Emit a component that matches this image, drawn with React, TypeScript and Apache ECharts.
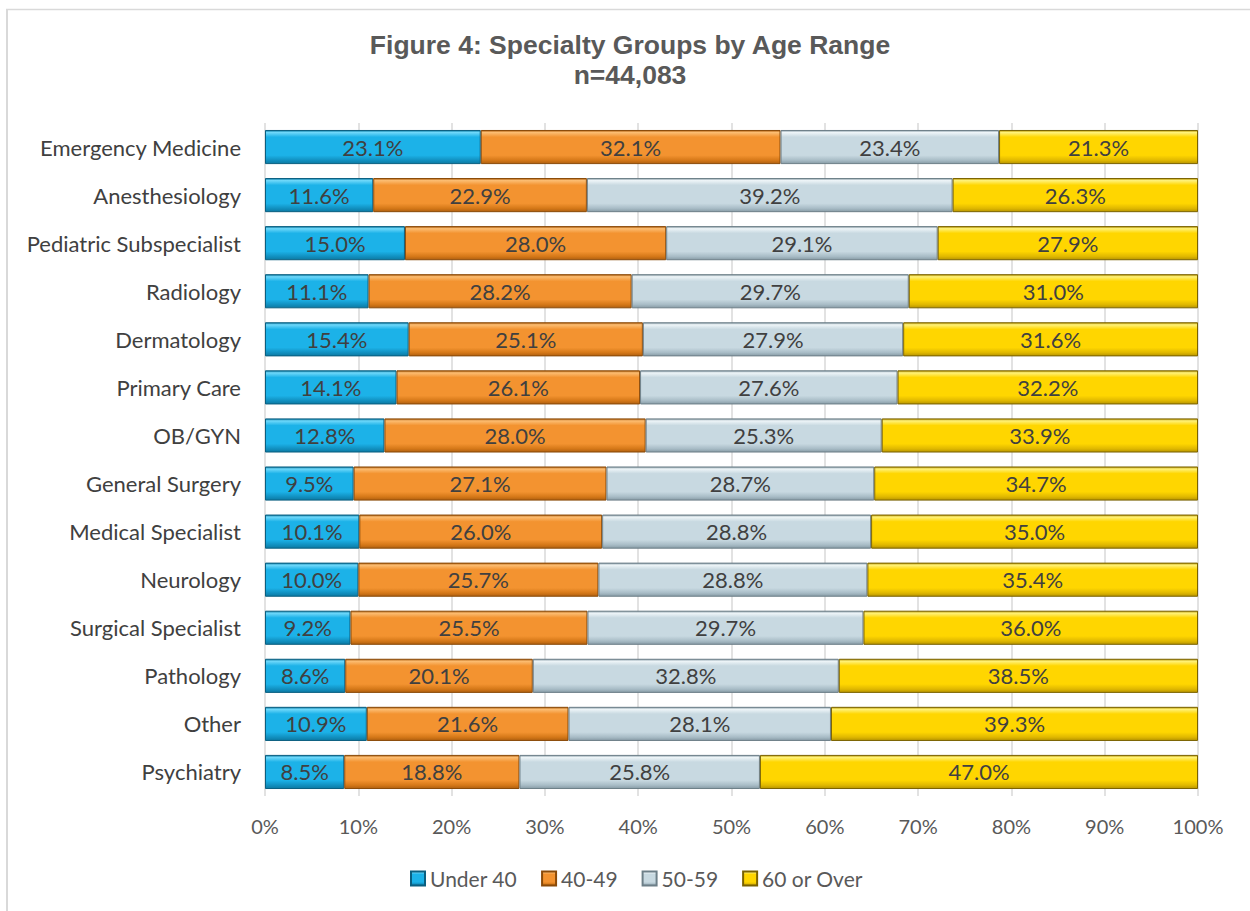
import React, { useEffect, useRef } from "react";
import * as echarts from "echarts";

const categories = [
  "Emergency Medicine",
  "Anesthesiology",
  "Pediatric Subspecialist",
  "Radiology",
  "Dermatology",
  "Primary Care",
  "OB/GYN",
  "General Surgery",
  "Medical Specialist",
  "Neurology",
  "Surgical Specialist",
  "Pathology",
  "Other",
  "Psychiatry",
];

const under40 = [23.1, 11.6, 15.0, 11.1, 15.4, 14.1, 12.8, 9.5, 10.1, 10.0, 9.2, 8.6, 10.9, 8.5];
const age40to49 = [32.1, 22.9, 28.0, 28.2, 25.1, 26.1, 28.0, 27.1, 26.0, 25.7, 25.5, 20.1, 21.6, 18.8];
const age50to59 = [23.4, 39.2, 29.1, 29.7, 27.9, 27.6, 25.3, 28.7, 28.8, 28.8, 29.7, 32.8, 28.1, 25.8];
const age60plus = [21.3, 26.3, 27.9, 31.0, 31.6, 32.2, 33.9, 34.7, 35.0, 35.4, 36.0, 38.5, 39.3, 47.0];

const seriesNames = ["Under 40", "40-49", "50-59", "60 or Over"];
const xTicks = [0, 10, 20, 30, 40, 50, 60, 70, 80, 90, 100];

const FONT = "Lato, 'Open Sans', sans-serif";

function grad(light: string, base: string, dark: string, edge: string) {
  return new echarts.graphic.LinearGradient(0, 0, 0, 1, [
    { offset: 0, color: edge },
    { offset: 0.06, color: light },
    { offset: 0.2, color: base },
    { offset: 0.75, color: base },
    { offset: 0.9, color: dark },
    { offset: 1, color: edge },
  ]);
}

export default function App() {
  const ref = useRef<HTMLDivElement>(null);
  useEffect(() => {
    if (!ref.current) return;
    const chart = echarts.init(ref.current, undefined, { renderer: "svg" });
    const all = [under40, age40to49, age50to59, age60plus];
    const sums = categories.map((_, i) => all.reduce((s, arr) => s + arr[i], 0));
    const styles = [
      { color: grad("#6fd8fa", "#1cb2e8", "#1190c0", "#0c7aa3"), border: "#0a5f80" },
      { color: grad("#fcbd72", "#f39330", "#d57818", "#b06010"), border: "#8a4a08" },
      { color: grad("#eef5f8", "#c8d9e1", "#a8bcc6", "#889ca6"), border: "#6d7f88" },
      { color: grad("#fff27a", "#ffd600", "#e0b800", "#b89500"), border: "#7a6200" },
    ];
    const series = all.map((arr, k) => ({
      name: seriesNames[k],
      type: "bar",
      stack: "total",
      barCategoryGap: "29%",
      data: arr.map((v, i) => (v / sums[i]) * 100),
      itemStyle: {
        color: styles[k].color,
        borderColor: styles[k].border,
        borderWidth: 1,
      },
      label: {
        show: true,
        position: "inside",
        color: "#404040",
        fontFamily: FONT,
        fontSize: 22,
        formatter: (p: any) => arr[p.dataIndex].toFixed(1) + "%",
      },
    }));
    chart.setOption({
      animation: false,
      backgroundColor: "#ffffff",
      title: {
        text: "Figure 4: Specialty Groups by Age Range\nn=44,083",
        left: 625,
        textAlign: "center",
        top: 25,
        textStyle: {
          fontFamily: "'Liberation Sans', Arial, sans-serif",
          fontWeight: "bold",
          fontSize: 26.5,
          color: "#595959",
          lineHeight: 30,
        },
      },
      legend: {
        bottom: 17,
        left: 405,
        itemWidth: 14,
        itemHeight: 14,
        itemGap: 24,
        icon: "rect",
        textStyle: { fontFamily: FONT, fontSize: 21, color: "#595959" },
        data: seriesNames,
      },
      grid: { left: 265, right: 52, top: 123, bottom: 115, containLabel: false },
      xAxis: {
        type: "value",
        min: 0,
        max: 100,
        interval: 10,
        axisLabel: {
          fontFamily: FONT,
          fontSize: 20,
          color: "#595959",
          margin: 20,
          formatter: (v: number) => (xTicks.includes(v) ? v + "%" : ""),
        },
        splitLine: { lineStyle: { color: "#d9d9d9", width: 1.5 } },
        axisLine: { show: false },
        axisTick: { show: false },
      },
      yAxis: {
        type: "category",
        data: categories,
        inverse: true,
        axisLabel: { fontFamily: FONT, fontSize: 22, color: "#404040", margin: 24 },
        axisLine: { show: false },
        axisTick: { show: false },
      },
      graphic: [
        { type: "line", shape: { x1: 7, y1: 9, x2: 7, y2: 911 }, style: { stroke: "#d9d9d9", lineWidth: 2 } },
        { type: "line", shape: { x1: 6, y1: 9.5, x2: 1250, y2: 9.5 }, style: { stroke: "#d9d9d9", lineWidth: 1.5 } },
      ],
      series,
    });
    return () => chart.dispose();
  }, []);
  return (
    <div
      ref={ref}
      style={{ position: "absolute", left: 0, top: 0, width: 1250, height: 911 }}
    />
  );
}
